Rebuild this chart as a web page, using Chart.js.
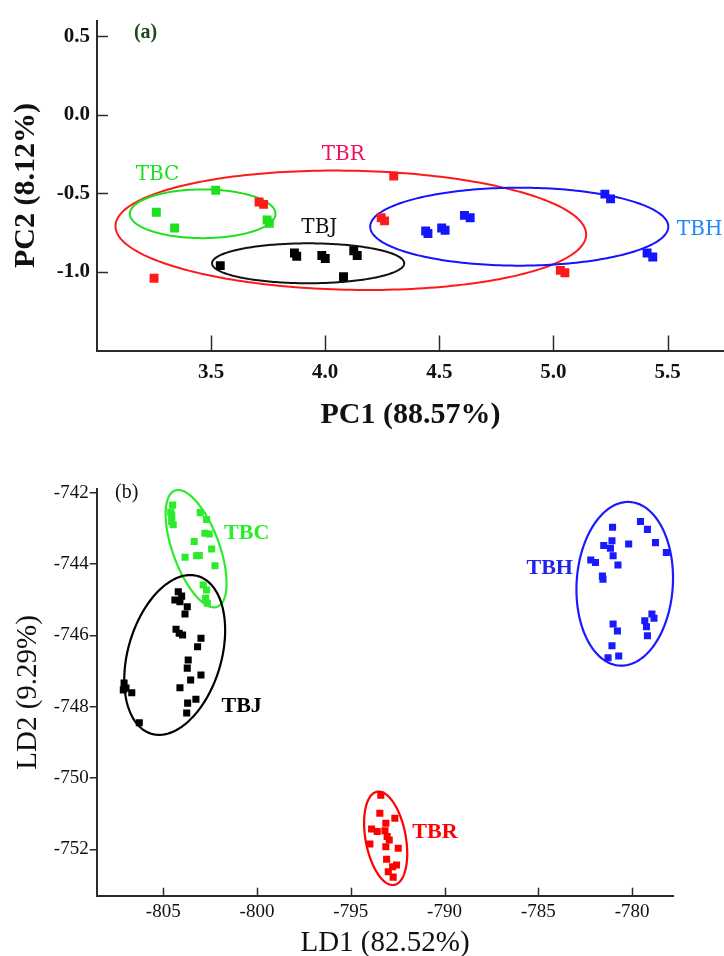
<!DOCTYPE html>
<html><head><meta charset="utf-8">
<script src="https://cdn.jsdelivr.net/npm/chart.js@4/dist/chart.umd.min.js"></script>
<style>
html,body{margin:0;padding:0;background:#fff;width:724px;height:956px;overflow:hidden;}
#wa{position:absolute;left:0;top:0;width:724px;height:445px;}
#wb{position:absolute;left:0;top:450px;width:724px;height:506px;}
</style></head><body>
<div id="wa"><canvas id="ca" width="724" height="445"></canvas></div>
<div id="wb"><canvas id="cb" width="724" height="506"></canvas></div>
<script>
// ---------- Panel (a): PCA scores ----------
const pcaTBC_x = [3.26, 3.34, 3.52, 3.745, 3.755];
const pcaTBC_y = [-0.62, -0.72, -0.48, -0.67, -0.69];
const pcaTBR_x = [3.25, 3.71, 3.73, 4.30, 4.245, 4.26, 5.03, 5.05];
const pcaTBR_y = [-1.04, -0.555, -0.57, -0.39, -0.655, -0.675, -0.99, -1.005];
const pcaTBJ_x = [3.54, 3.865, 3.875, 3.985, 4.0, 4.125, 4.14, 4.08];
const pcaTBJ_y = [-0.96, -0.88, -0.90, -0.895, -0.915, -0.865, -0.895, -1.03];
const pcaTBH_x = [4.44, 4.45, 4.51, 4.525, 4.61, 4.635, 5.225, 5.25, 5.41, 5.435];
const pcaTBH_y = [-0.74, -0.755, -0.72, -0.735, -0.64, -0.655, -0.505, -0.535, -0.88, -0.905];
const pcaXTicks = [3.5, 4.0, 4.5, 5.0, 5.5];
const pcaYTicks = [0.5, 0.0, -0.5, -1.0];
// confidence ellipses: [centre x, centre y, half-width, half-height, phase (deg)]
const pcaEllTBR = [4.112, -0.735, 1.031, 0.38, 94];
const pcaEllTBC = [3.463, -0.63, 0.319, 0.155, 90];
const pcaEllTBJ = [3.925, -0.945, 0.421, 0.127, 90];
const pcaEllTBH = [4.85, -0.712, 0.653, 0.248, 90];

// ---------- Panel (b): LDA scores ----------
const ldaTBC_x = [-804.5, -804.55, -804.55, -804.47, -804.6, -803.03, -802.69, -802.78, -802.55, -803.35, -802.42, -803.84, -803.22, -803.08, -802.24, -802.87, -802.69, -802.74, -802.65];
const ldaTBC_y = [-742.35, -742.63, -742.81, -742.9, -742.55, -742.56, -742.75, -743.14, -743.16, -743.37, -743.58, -743.81, -743.77, -743.76, -744.05, -744.59, -744.73, -744.96, -745.1];
const ldaTBJ_x = [-804.2, -804.02, -804.38, -804.11, -803.72, -803.84, -804.32, -804.15, -803.97, -802.99, -803.17, -803.67, -803.72, -803.54, -802.99, -804.11, -803.26, -803.7, -803.75, -807.09, -806.99, -806.68, -807.13, -806.28];
const ldaTBJ_y = [-744.78, -744.9, -745.01, -745.06, -745.2, -745.4, -745.83, -745.94, -745.99, -746.08, -746.32, -746.69, -746.92, -747.25, -747.11, -747.47, -747.79, -747.9, -748.18, -747.34, -747.48, -747.61, -747.53, -748.45];
const ldaTBH_x = [-781.04, -779.55, -779.18, -778.75, -778.17, -780.18, -781.07, -781.51, -781.15, -781.01, -780.75, -782.2, -781.95, -781.58, -781.55, -781.01, -780.78, -781.07, -780.71, -781.28, -778.94, -778.83, -779.32, -779.23, -779.18];
const ldaTBH_y = [-742.97, -742.81, -743.03, -743.4, -743.68, -743.44, -743.35, -743.48, -743.56, -743.77, -744.03, -743.89, -743.96, -744.34, -744.43, -745.68, -745.88, -746.29, -746.58, -746.63, -745.4, -745.52, -745.59, -745.76, -746.01];
const ldaTBR_x = [-793.4, -793.45, -792.65, -793.13, -793.89, -793.59, -793.18, -793.06, -792.95, -793.98, -793.13, -792.47, -793.09, -792.56, -792.77, -793.0, -792.74];
const ldaTBR_y = [-750.48, -750.99, -751.13, -751.27, -751.43, -751.5, -751.48, -751.64, -751.74, -751.85, -751.93, -751.97, -752.28, -752.44, -752.49, -752.63, -752.78];
const ldaXTicks = [-805, -800, -795, -790, -785, -780];
const ldaYTicks = [-742, -744, -746, -748, -750, -752];
const ldaEllTBC = [-803.25, -743.57, 1.625, 1.645, 126];
const ldaEllTBJ = [-804.39, -746.55, 2.69, 2.24, 72];
const ldaEllTBH = [-780.39, -744.555, 2.575, 2.295, 86];
const ldaEllTBR = [-793.14, -751.69, 1.15, 1.31, 109];

function pts(xs, ys) { return xs.map((x, i) => ({x: x, y: ys[i]})); }

const ellipsePlugin = {
  id: 'ellipses',
  beforeDatasetsDraw(chart, args, opts) {
    const ctx = chart.ctx, sx = chart.scales.x, sy = chart.scales.y;
    (opts.items || []).forEach(e => {
      const s = e.shape, d = s[4] * Math.PI / 180;
      ctx.save();
      ctx.beginPath();
      for (let k = 0; k <= 240; k++) {
        const t = k / 240 * 2 * Math.PI;
        const px = sx.getPixelForValue(s[0] + s[2] * Math.cos(t));
        const py = sy.getPixelForValue(s[1] + s[3] * Math.cos(t - d));
        if (k === 0) ctx.moveTo(px, py); else ctx.lineTo(px, py);
      }
      ctx.closePath();
      ctx.strokeStyle = e.color;
      ctx.lineWidth = e.lw;
      ctx.stroke();
      ctx.restore();
    });
  }
};
const textPlugin = {
  id: 'texts',
  afterDatasetsDraw(chart, args, opts) {
    const ctx = chart.ctx, sx = chart.scales.x, sy = chart.scales.y;
    (opts.items || []).forEach(t => {
      ctx.save();
      ctx.font = t.css;
      ctx.fillStyle = t.color;
      ctx.textAlign = 'center';
      ctx.textBaseline = 'middle';
      ctx.fillText(t.text, sx.getPixelForValue(t.x), sy.getPixelForValue(t.y));
      ctx.restore();
    });
  }
};
const innerTicksPlugin = {
  id: 'innerTicks',
  afterDraw(chart, args, opts) {
    const ctx = chart.ctx, a = chart.chartArea;
    ctx.save();
    ctx.strokeStyle = opts.color;
    ctx.lineWidth = opts.lw;
    if (opts.xLen) {
      const s = chart.scales.x;
      s.ticks.forEach(t => {
        const p = Math.round(s.getPixelForValue(t.value)) + 0.5;
        ctx.beginPath(); ctx.moveTo(p, a.bottom); ctx.lineTo(p, a.bottom - opts.xLen); ctx.stroke();
      });
    }
    if (opts.yLen) {
      const s = chart.scales.y;
      s.ticks.forEach(t => {
        const p = Math.round(s.getPixelForValue(t.value)) + 0.5;
        ctx.beginPath(); ctx.moveTo(a.left, p); ctx.lineTo(a.left + opts.yLen, p); ctx.stroke();
      });
    }
    ctx.restore();
  }
};

function sq(label, data, color, r) {
  return {label: label, data: data, backgroundColor: color, borderColor: color,
    pointStyle: 'rect', pointRadius: r, pointBorderWidth: 0, pointHoverRadius: r, showLine: false};
}

const serif = 'Liberation Serif';

// ---------- Chart (a) ----------
const cA = {g: '#1ee01e', r: '#ff1a1a', k: '#000000', b: '#1414ff'};
new Chart(document.getElementById('ca'), {
  type: 'scatter',
  data: {datasets: [
    sq('TBR', pts(pcaTBR_x, pcaTBR_y), cA.r, 6.3),
    sq('TBC', pts(pcaTBC_x, pcaTBC_y), cA.g, 6.3),
    sq('TBJ', pts(pcaTBJ_x, pcaTBJ_y), cA.k, 6.3),
    sq('TBH', pts(pcaTBH_x, pcaTBH_y), cA.b, 6.3)
  ]},
  plugins: [ellipsePlugin, textPlugin, innerTicksPlugin],
  options: {
    responsive: false, animation: false, events: [],
    layout: {autoPadding: false, padding: {left: 0, top: 20.5, right: 0, bottom: 0}},
    scales: {
      x: {
        type: 'linear', min: 3.0, max: 5.747,
        afterBuildTicks: s => { s.ticks = pcaXTicks.map(v => ({value: v})); },
        afterFit: s => { s.height = 94.5; },
        grid: {display: true, drawOnChartArea: false, drawTicks: false},
        border: {display: true, color: '#2b2b2b', width: 2},
        ticks: {padding: 9, color: '#111', autoSkip: false, maxRotation: 0,
          font: {family: serif, size: 21, weight: 'bold'}, callback: v => Number(v).toFixed(1)},
        title: {display: true, text: 'PC1 (88.57%)', color: '#111',
          font: {family: serif, size: 30, weight: 'bold'}, padding: {top: 0, bottom: 12}}
      },
      y: {
        type: 'linear', min: -1.5, max: 0.6,
        afterBuildTicks: s => { s.ticks = pcaYTicks.map(v => ({value: v})); },
        afterFit: s => { s.width = 97; },
        grid: {display: true, drawOnChartArea: false, drawTicks: false},
        border: {display: true, color: '#2b2b2b', width: 2},
        ticks: {padding: 7, color: '#111', autoSkip: false,
          font: {family: serif, size: 21, weight: 'bold'}, callback: v => Number(v).toFixed(1)},
        title: {display: true, text: 'PC2 (8.12%)', color: '#111',
          font: {family: serif, size: 30, weight: 'bold'}, padding: {top: 8.7, bottom: 0}}
      }
    },
    plugins: {
      legend: {display: false}, tooltip: {enabled: false},
      ellipses: {items: [
        {shape: pcaEllTBR, color: cA.r, lw: 2},
        {shape: pcaEllTBC, color: cA.g, lw: 2},
        {shape: pcaEllTBJ, color: '#111', lw: 2},
        {shape: pcaEllTBH, color: cA.b, lw: 2}
      ]},
      texts: {items: [
        {text: '(a)', x: 3.213, y: 0.519, css: 'bold 20px "Liberation Serif"', color: '#1c481c'},
        {text: 'TBC', x: 3.265, y: -0.384, css: '20px "DejaVu Serif"', color: cA.g},
        {text: 'TBR', x: 4.079, y: -0.257, css: '20px "DejaVu Serif"', color: '#ee1459'},
        {text: 'TBJ', x: 3.974, y: -0.72, css: '20px "DejaVu Serif"', color: '#111'},
        {text: 'TBH', x: 5.64, y: -0.729, css: '20px "DejaVu Serif"', color: '#1e86ff'}
      ]},
      innerTicks: {color: '#2b2b2b', lw: 1.5, xLen: 15, yLen: 11}
    }
  }
});

// ---------- Chart (b) ----------
const cB = {g: '#2aec2a', r: '#ff0000', k: '#000000', b: '#1a1aff'};
new Chart(document.getElementById('cb'), {
  type: 'scatter',
  data: {datasets: [
    sq('TBC', pts(ldaTBC_x, ldaTBC_y), cB.g, 5),
    sq('TBJ', pts(ldaTBJ_x, ldaTBJ_y), cB.k, 5),
    sq('TBH', pts(ldaTBH_x, ldaTBH_y), cB.b, 5),
    sq('TBR', pts(ldaTBR_x, ldaTBR_y), cB.r, 5)
  ]},
  plugins: [ellipsePlugin, textPlugin, innerTicksPlugin],
  options: {
    responsive: false, animation: false, events: [],
    layout: {autoPadding: false, padding: {left: 0, top: 39.1, right: 50.7, bottom: 0}},
    scales: {
      x: {
        type: 'linear', min: -808.55, max: -777.8,
        afterBuildTicks: s => { s.ticks = ldaXTicks.map(v => ({value: v})); },
        afterFit: s => { s.height = 60.3; },
        grid: {display: true, drawOnChartArea: false, drawTicks: false},
        border: {display: true, color: '#2b2b2b', width: 2},
        ticks: {padding: 4.6, color: '#111', autoSkip: false, maxRotation: 0,
          font: {family: serif, size: 19}, callback: v => String(v)},
        title: {display: true, text: 'LD1 (82.52%)', color: '#111',
          font: {family: serif, size: 29, lineHeight: 0.9}, padding: {top: 0, bottom: 0}}
      },
      y: {
        type: 'linear', min: -753.3, max: -741.9,
        afterBuildTicks: s => { s.ticks = ldaYTicks.map(v => ({value: v})); },
        afterFit: s => { s.width = 96.7; },
        grid: {display: true, drawOnChartArea: false, drawTicks: true, tickLength: 7, color: '#2b2b2b', lineWidth: 1.5},
        border: {display: true, color: '#2b2b2b', width: 2},
        ticks: {padding: 1, color: '#111', autoSkip: false,
          font: {family: serif, size: 19}, callback: v => String(v)},
        title: {display: true, text: 'LD2 (9.29%)', color: '#111',
          font: {family: serif, size: 29}, padding: {top: 10.6, bottom: 0}}
      }
    },
    plugins: {
      legend: {display: false}, tooltip: {enabled: false},
      ellipses: {items: [
        {shape: ldaEllTBC, color: cB.g, lw: 2.2},
        {shape: ldaEllTBJ, color: '#000', lw: 2.2},
        {shape: ldaEllTBH, color: cB.b, lw: 2.2},
        {shape: ldaEllTBR, color: cB.r, lw: 2.2}
      ]},
      texts: {items: [
        {text: '(b)', x: -806.95, y: -742.0, css: '20px "Liberation Serif"', color: '#111'},
        {text: 'TBC', x: -800.55, y: -743.14, css: 'bold 22px "Liberation Serif"', color: cB.g},
        {text: 'TBJ', x: -800.82, y: -747.98, css: 'bold 22px "Liberation Serif"', color: '#000'},
        {text: 'TBH', x: -784.39, y: -744.12, css: 'bold 22px "Liberation Serif"', color: '#2222ee'},
        {text: 'TBR', x: -790.51, y: -751.53, css: 'bold 22px "Liberation Serif"', color: cB.r}
      ]},
      innerTicks: {color: '#2b2b2b', lw: 1.5, xLen: 8, yLen: 0}
    }
  }
});
</script>
</body></html>
